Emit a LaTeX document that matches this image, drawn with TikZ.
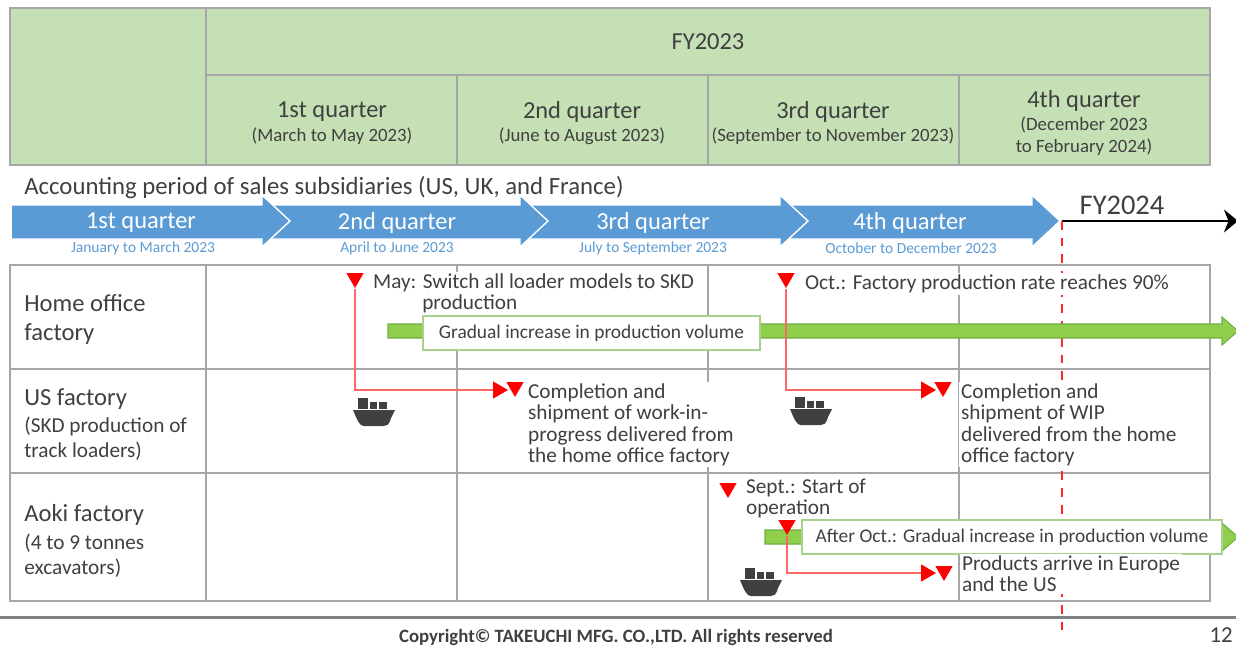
\documentclass[tikz,border=0pt]{standalone}
\usepackage{fontspec}
\setmainfont{Carlito}
\usetikzlibrary{shapes.geometric,arrows.meta}
\definecolor{hdrgreen}{HTML}{C5E0B4}
\definecolor{gridgray}{HTML}{A6A6A6}
\definecolor{qblue}{HTML}{5B9BD5}
\definecolor{bargreen}{HTML}{8FCF4B}
\definecolor{boxgreen}{HTML}{A9D18E}
\definecolor{baredge}{HTML}{70AD47}
\definecolor{txtgray}{HTML}{404040}
\tikzset{
  big/.style={font=\fontsize{13.9}{12}\selectfont,text=txtgray,inner sep=0pt},
  sub/.style={font=\fontsize{10.7}{12.4}\selectfont,text=txtgray,inner sep=0pt,align=center},
  note/.style={font=\fontsize{12.1}{12}\selectfont,text=txtgray,anchor=north west,align=left,fill=white,inner sep=1pt},
  rowname/.style={font=\fontsize{14}{16.4}\selectfont,text=txtgray,anchor=west,align=left,inner sep=0pt},
  rowsub/.style={font=\fontsize{12.1}{14.2}\selectfont,text=txtgray,anchor=west,align=left,inner sep=0pt},
  datenote/.style={font=\fontsize{8.8}{10}\selectfont,text=qblue,inner sep=0pt},
  barnote/.style={font=\fontsize{11.05}{12}\selectfont,text=txtgray,draw=boxgreen,line width=1pt,fill=white,inner sep=0pt},
  dtri/.style={regular polygon,regular polygon sides=3,shape border rotate=180,fill=red,inner sep=0pt,minimum size=0.4cm},
  rtri/.style={regular polygon,regular polygon sides=3,shape border rotate=-90,fill=red,inner sep=0pt,minimum size=0.4cm},
  redline/.style={draw=red!60,line width=0.7pt},
  pics/shipicon/.style={code={
    \fill[txtgray] (-21,-2) -- (21,-2) -- (17,6) .. controls (15,13) and (13,14) .. (10,14) -- (-10,14) .. controls (-14,14) and (-16,10) .. (-21,-2) -- cycle;
    \fill[txtgray] (-16,-14) rectangle (-6,-3);
    \fill[txtgray] (-4,-10) rectangle (3,-3);
    \fill[txtgray] (5,-10) rectangle (13,-3);
  }}
}
\begin{document}
\begin{tikzpicture}[x=0.02cm,y=-0.02cm]
\useasboundingbox (0,0) rectangle (1236,646);

% header table
\draw[fill=hdrgreen,draw=gridgray,line width=1pt] (10,8) rectangle (1210,165);
\draw[gridgray,line width=1pt] (206,8) -- (206,165) (206,75) -- (1210,75);
\foreach \x in {457,708,959}
\draw[gridgray,line width=1pt] (\x,75) -- (\x,165);

\node[big] (fy) at (708,42) {FY2023};
\node[big] (q1) at (332,112) {1st quarter};
\node[sub] (q1s) at (332,136) {(March to May 2023)};
\node[big] (q2) at (582,112) {2nd quarter};
\node[sub] (q2s) at (582,136) {(June to August 2023)};
\node[big] (q3) at (833,112) {3rd quarter};
\node[sub] (q3s) at (833,136) {(September to November 2023)};
\node[big] (q4) at (1084,101) {4th quarter};
\node[sub] (q4s) at (1084,136) {(December 2023\\to February 2024)};

\node[big,anchor=west,font=\fontsize{14.1}{12}\selectfont] (acc) at (24,188) {Accounting period of sales subsidiaries (US, UK, and France)};

% blue arrows, last one first
\foreach \s/\e in {793/1032,533/780,275/520,12/262}
\draw[fill=qblue,draw=white,line width=0.8pt] (\s-20,205) -- (\e,205) -- (\e,195) -- (\e+28,221) -- (\e,247) -- (\e,239) -- (\s-20,239) -- cycle;
\fill[white] (0,190) rectangle (12,250);

\node[big,text=white] (b1) at (141,223) {1st quarter};
\node[big,text=white] (b2) at (397,223) {2nd quarter};
\node[big,text=white] (b3) at (653,223) {3rd quarter};
\node[big,text=white] (b4) at (910,223) {4th quarter};
\node[datenote] (d1) at (143,248) {January to March 2023};
\node[datenote] (d2) at (397,248) {April to June 2023};
\node[datenote] (d3) at (653,248) {July to September 2023};
\node[datenote] (d4) at (911,248) {October to December 2023};

\coordinate (fystart) at (1062,221);
\coordinate (fyend) at (1238,221);
\coordinate (fybottom) at (1062,630);
\draw[line width=1.7pt,-{Stealth[length=8pt,width=13pt]}] (fystart) -- (fyend);
\node[big,font=\fontsize{16.2}{14}\selectfont] (fy24) at (1122,205) {FY2024};

% lower table
\draw[gridgray,line width=1pt] (10,265) rectangle (1210,601);
\draw[gridgray,line width=1pt] (10,369) -- (1210,369) (10,473) -- (1210,473) (206,265) -- (206,601);
\foreach \x in {457,708,959}
\draw[gridgray,line width=1pt] (\x,265) -- (\x,601);
\coordinate (ruleleft) at (0,617);
\coordinate (ruleright) at (1236,617);
\draw[gray,line width=1.7pt] (ruleleft) -- (ruleright);
\draw[red!85,line width=1pt,dash pattern=on 5pt off 4.5pt] (fystart) -- (fybottom);

\node[rowname] (home) at (24,319.5) {Home office\\factory};
\node[rowname] (us) at (24,399) {US factory};
\node[rowsub] (uss) at (24,439) {(SKD production of\\track loaders)};
\node[rowname] (aoki) at (24,515) {Aoki factory};
\node[rowsub] (aokis) at (24,555.5) {(4 to 9 tonnes\\excavators)};

% green bars
\foreach \s/\y in {388/331,765/537}
\draw[fill=bargreen,draw=baredge,line width=0.6pt] (\s,\y-7) -- (1222,\y-7) -- (1222,\y-14) -- (1238,\y) -- (1222,\y+14) -- (1222,\y+7) -- (\s,\y+7) -- cycle;

% red marks
\node[dtri] (may) at (355,278) {};
\node[rtri] (mayto) at (498,390) {};
\node[dtri] (mayend) at (515,387) {};
\node[dtri] (oct) at (786,278) {};
\node[rtri] (octto) at (926,390) {};
\node[dtri] (octend) at (943,387) {};
\node[dtri] (sept) at (728,488) {};
\node[dtri] (aokiship) at (787,525) {};
\node[rtri] (aokito) at (926,573) {};
\node[dtri] (aokiend) at (944,571) {};
\draw[redline] (may) |- (mayto);
\draw[redline] (oct) |- (octto);
\draw[redline] (aokiship) |- (aokito);

\pic at (374,412) {shipicon};
\pic at (811,411) {shipicon};
\pic at (761,582) {shipicon};

\node[barnote,minimum width=6.74cm,minimum height=0.68cm] (box1) at (591.5,333) {Gradual increase in production volume};
\node[barnote,minimum width=8.4cm,minimum height=0.68cm] (box2) at (1012,537) {After Oct.: Gradual increase in production volume};

% notes
\node[note] (n1) at (371,272) {May: Switch all loader models to SKD\\\hspace*{28pt}production};
\node[note] (n2) at (803,273) {Oct.: Factory production rate reaches 90\%};
\node[note] (n3) at (526,382) {Completion and\\shipment of work-in-\\progress delivered from\\the home office factory};
\node[note] (n4) at (959,382) {Completion and\\shipment of WIP\\delivered from the home\\office factory};
\node[note,fill=none] (n5) at (744,477) {Sept.: Start of\\operation};
\node[note] (n6) at (960,554) {Products arrive in Europe\\and the US};

\node[inner sep=0pt,font=\fontsize{10.7}{12}\selectfont\bfseries,text=txtgray] (copy) at (616,637) {Copyright© TAKEUCHI MFG. CO.,LTD. All rights reserved};
\node[inner sep=0pt,anchor=east,font=\fontsize{13}{12}\selectfont,text=txtgray] (page) at (1233,635) {12};
\end{tikzpicture}
\end{document}
